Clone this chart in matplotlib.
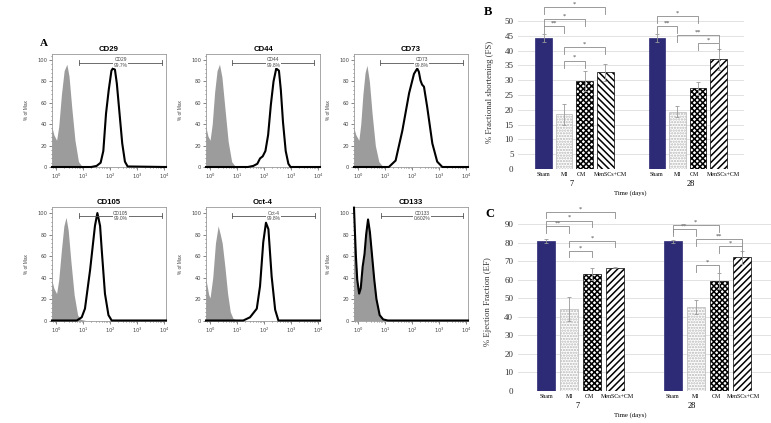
import numpy as np
import matplotlib
matplotlib.use('Agg')
import matplotlib.pyplot as plt
import matplotlib.transforms as mtransforms
from matplotlib.ticker import LogLocator, AutoMinorLocator, NullFormatter

W, H = 771, 423
plt.rcParams['hatch.linewidth'] = 1.1

# ---- panel A: flow cytometry histograms (x in log10 units, y in % of max) ----
markers = ['CD29', 'CD44', 'CD73', 'CD105', 'Oct-4', 'CD133']
percents = ['99.7%', '99.8%', '99.8%', '99.0%', '99.8%', '0.602%']
gates = [(0.85, 3.93), (0.83, 3.86), (0.83, 3.87), (0.86, 3.93), (0.83, 3.88), (0.84, 3.90)]

iso_x = [
    [-0.15, -0.08, 0.02, 0.1, 0.2, 0.3, 0.4, 0.48, 0.58, 0.7, 0.83, 0.95, 1.1],
    [-0.15, -0.08, 0.0, 0.08, 0.17, 0.26, 0.35, 0.44, 0.55, 0.67, 0.8, 0.92, 1.1],
    [-0.15, -0.08, 0.03, 0.1, 0.18, 0.26, 0.33, 0.42, 0.52, 0.64, 0.77, 0.9, 1.05],
    [-0.15, -0.08, 0.02, 0.1, 0.2, 0.29, 0.37, 0.45, 0.55, 0.67, 0.8, 0.92, 1.1],
    [-0.15, -0.05, 0.0, 0.1, 0.2, 0.3, 0.38, 0.45, 0.55, 0.65, 0.75, 0.85, 1.0],
    [-0.15, -0.12, -0.08, -0.03, 0.04, 0.1, 0.17, 0.24, 0.3, 0.37, 0.44, 0.52, 0.6, 0.68, 0.8, 0.93, 1.1],
]
iso_y = [
    [37, 30, 25, 38, 68, 90, 96, 85, 56, 25, 5, 1, 0],
    [37, 29, 25, 40, 70, 90, 96, 84, 55, 24, 5, 1, 0],
    [36, 30, 25, 40, 68, 88, 95, 80, 50, 20, 5, 1, 0],
    [37, 30, 25, 38, 66, 88, 96, 84, 55, 24, 5, 1, 0],
    [38, 24, 21, 40, 72, 88, 80, 72, 50, 25, 8, 2, 0],
    [105, 85, 60, 38, 25, 30, 50, 62, 80, 94, 82, 60, 38, 20, 5, 1, 0],
]
pos_x = [
    [-0.15, 1.3, 1.5, 1.65, 1.75, 1.85, 1.95, 2.05, 2.1, 2.18, 2.25, 2.35, 2.45, 2.55, 2.65, 4.07],
    [-0.15, 1.4, 1.6, 1.75, 1.85, 1.95, 2.05, 2.15, 2.25, 2.35, 2.45, 2.55, 2.62, 2.7, 2.8, 2.9, 2.98, 4.07],
    [-0.15, 1.14, 1.39, 1.64, 1.89, 2.07, 2.19, 2.25, 2.31, 2.37, 2.44, 2.56, 2.75, 2.93, 3.12, 4.07],
    [-0.15, 0.77, 0.95, 1.07, 1.26, 1.44, 1.53, 1.63, 1.69, 1.81, 1.94, 2.06, 4.07],
    [-0.15, 1.23, 1.48, 1.73, 1.85, 1.97, 2.07, 2.16, 2.28, 2.41, 2.53, 4.07],
    [-0.15, -0.12, -0.08, -0.03, 0.04, 0.1, 0.17, 0.24, 0.3, 0.37, 0.44, 0.52, 0.6, 0.68, 0.8, 0.93, 1.1, 4.07],
]
pos_y = [
    [0, 0, 1, 4, 15, 50, 72, 90, 92, 91, 78, 50, 22, 5, 0.5, 0],
    [0, 0, 1, 3, 8, 10, 15, 30, 58, 80, 92, 90, 72, 42, 15, 3, 0, 0],
    [0, 0, 6, 34, 69, 87, 92, 89, 81, 77, 75, 56, 22, 5, 0, 0],
    [0, 0, 3, 11, 47, 88, 100, 88, 66, 25, 5, 0, 0],
    [0, 0, 3, 11, 32, 73, 91, 85, 41, 10, 0, 0],
    [105, 85, 60, 38, 25, 30, 50, 62, 80, 94, 82, 60, 38, 20, 5, 1, 0, 0],
]

# ---- panels B and C: echocardiography bars ----
groups = ['Sham', 'MI', 'CM', 'MenSCs+CM']
days = ['7', '28']
fs_vals = [44.2, 18.5, 29.7, 32.7, 44.2, 19.4, 27.3, 37.0]
fs_err = [1.3, 3.5, 3.3, 2.9, 1.3, 2.0, 2.2, 3.4]
ef_vals = [80.9, 44.0, 63.1, 66.5, 80.6, 45.2, 59.2, 72.1]
ef_err = [1.0, 6.4, 3.4, 0.3, 1.0, 3.6, 4.3, 3.6]
# significance brackets: (bar i, bar j, height, label)
fs_sig = [(0, 3, 54.8, '*'), (0, 2, 50.7, '*'), (0, 1, 48.3, '**'), (1, 3, 41.3, '*'), (1, 2, 36.6, '*'),
          (4, 6, 51.7, '*'), (4, 5, 48.3, '**'), (5, 7, 45.3, '**'), (6, 7, 42.6, '*')]
ef_sig = [(0, 3, 96.6, '*'), (0, 2, 91.8, '*'), (0, 1, 88.9, '**'), (1, 3, 81.0, '*'), (1, 2, 75.6, '*'),
          (4, 6, 89.4, '*'), (4, 5, 87.3, '**'), (5, 7, 81.9, '**'), (6, 7, 78.1, '*'), (5, 6, 67.9, '*')]

fig = plt.figure(figsize=(W / 100, H / 100), dpi=100)


def px_axes(left, top, right, bottom):
    return fig.add_axes([left / W, 1 - bottom / H, (right - left) / W, (bottom - top) / H])


sans = 'Liberation Sans'
serif = 'Liberation Serif'

cols = [(52, 166), (206, 320), (354, 468)]
rows = [(54, 167), (207, 320.5)]
for k, name in enumerate(markers):
    l, r = cols[k % 3]
    t, b = rows[k // 3]
    ax = px_axes(l, t, r, b)
    ax.set_xscale('log')
    ax.fill_between(10 ** np.array(iso_x[k]), iso_y[k], color='#9c9c9c', lw=0, zorder=1)
    ax.plot(10 ** np.array(pos_x[k]), pos_y[k], color='black', lw=1.5, zorder=3, clip_on=False,
            solid_joinstyle='round')
    ax.set_xlim(10 ** -0.15, 10 ** 4.07)
    ax.set_ylim(0, 105.6)
    ax.set_yticks([0, 20, 40, 60, 80, 100])
    ax.yaxis.set_minor_locator(AutoMinorLocator(5))
    ax.xaxis.set_major_locator(LogLocator(base=10, numticks=10))
    ax.xaxis.set_minor_locator(LogLocator(base=10, subs=np.arange(2, 10), numticks=20))
    ax.xaxis.set_minor_formatter(NullFormatter())
    ax.tick_params(which='both', labelsize=3.7, colors='#555555', length=2, width=0.5, pad=1.5)
    ax.tick_params(which='minor', length=1)
    for lab in ax.get_xticklabels() + ax.get_yticklabels():
        lab.set_color('#444444')
    for sp in ax.spines.values():
        sp.set_color('#999999')
        sp.set_linewidth(0.6)
    ax.set_title(name, fontsize=5.6, fontweight='bold', family=sans, pad=2.5)
    ax.set_ylabel('% of Max', fontsize=3.4, color='#444444', family=sans)
    ax.yaxis.set_label_coords(-0.2, 0.5)
    lo, hi = gates[k]
    gy = 97.5
    ax.plot([10 ** lo, 10 ** hi], [gy, gy], color='#555555', lw=0.6, zorder=4)
    for e in (lo, hi):
        ax.plot([10 ** e, 10 ** e], [gy - 2.5, gy + 2.5], color='#555555', lw=0.6, zorder=4)
    ax.text(10 ** ((lo + hi) / 2), gy, name + '\n' + percents[k], fontsize=3.5, ha='center', va='center',
            color='#444444', family=sans, linespacing=1.1, zorder=5,
            bbox=dict(facecolor='white', edgecolor='none', pad=0.3))

fig.text(44 / W, 1 - 44 / H, 'A', fontsize=8, fontweight='bold', family=serif, ha='center', va='center')


def bar_panel(ax, vals, errs, sig, ymax, step, drop, flip_first_hatch, label_shift, day_x, title_x):
    pos = [0, 1, 2, 3, 5.5, 6.5, 7.5, 8.5]
    styles = [
        dict(color='#2D2B76', edgecolor='#2D2B76'),
        dict(color='white', edgecolor='#b8b8b8', hatch='......'),
        dict(color='white', edgecolor='black', hatch='xxxxxx'),
        dict(color='white', edgecolor='black', hatch='/////'),
    ]
    for i, v in enumerate(vals):
        st = dict(styles[i % 4])
        if i == 3 and flip_first_hatch:
            st['hatch'] = '\\\\\\\\\\'
        ax.bar(pos[i], v, width=0.8, lw=0.5, zorder=2, **st)
    ax.errorbar(pos, vals, yerr=errs, fmt='none', ecolor='#999999', elinewidth=0.6, capsize=1.5,
                capthick=0.6, zorder=3)
    ax.set_xlim(-1.25, 9.75)
    ax.set_ylim(0, ymax)
    ax.set_yticks(np.arange(0, ymax + 1, step))
    ax.grid(axis='y', color='#dddddd', lw=0.6, zorder=0)
    ax.set_axisbelow(True)
    for sp in ax.spines.values():
        sp.set_visible(False)
    ax.tick_params(axis='y', length=0, labelsize=6.5, pad=3)
    for lab in ax.get_yticklabels():
        lab.set_family(serif)
        lab.set_color('#333333')
    ax.set_xticks(pos)
    ax.set_xticklabels(groups * 2, fontsize=4.3, family=serif)
    ax.tick_params(axis='x', length=0, pad=2.2)
    for i, lab in enumerate(ax.get_xticklabels()):
        dx = label_shift[i % 4] / 72
        lab.set_transform(lab.get_transform() + mtransforms.ScaledTranslation(dx, 0, fig.dpi_scale_trans))
    for d, x in zip(days, day_x):
        ax.annotate(d, (x, 0), xycoords=('data', 'axes fraction'), xytext=(0, -11),
                    textcoords='offset points', ha='center', va='center', fontsize=6, family=serif)
    ax.annotate('Time (days)', (title_x, 0), xycoords=('data', 'axes fraction'), xytext=(0, -17.3),
                textcoords='offset points', ha='center', va='center', fontsize=4.9, family=serif)
    for i, j, y, lab in sig:
        x1, x2 = pos[i], pos[j]
        ax.plot([x1, x1, x2, x2], [y - drop, y, y, y - drop], color='#8a8a8a', lw=0.6, clip_on=False,
                zorder=4)
        ax.text((x1 + x2) / 2, y + drop * 0.08, lab, fontsize=4.6, ha='center', va='bottom',
                color='#444444', family=serif)


axB = px_axes(517.75, 21, 744.4, 169)
bar_panel(axB, fs_vals, fs_err, fs_sig, 50, 5, 2.4, True, [0, 0, -2.5, 3.5], [1.38, 7.15], 4.2)
fig.text(490 / W, 1 - 92 / H, '% Fractional shortening (FS)', rotation=90, fontsize=6.3, family=serif,
         ha='center', va='center', color='#333333')
fig.text(488 / W, 1 - 12 / H, 'B', fontsize=9, fontweight='bold', family=serif, ha='center', va='center')

axC = px_axes(517.5, 224, 770.5, 391)
bar_panel(axC, ef_vals, ef_err, ef_sig, 90, 10, 3.6, False, [0, 0, -2, 1.5], [1.38, 6.31], 3.65)
fig.text(488 / W, 1 - 302 / H, '% Ejection Fraction (EF)', rotation=90, fontsize=6.3, family=serif,
         ha='center', va='center', color='#333333')
fig.text(490 / W, 1 - 214 / H, 'C', fontsize=9, fontweight='bold', family=serif, ha='center', va='center')

fig.savefig('out.png', dpi=100)
